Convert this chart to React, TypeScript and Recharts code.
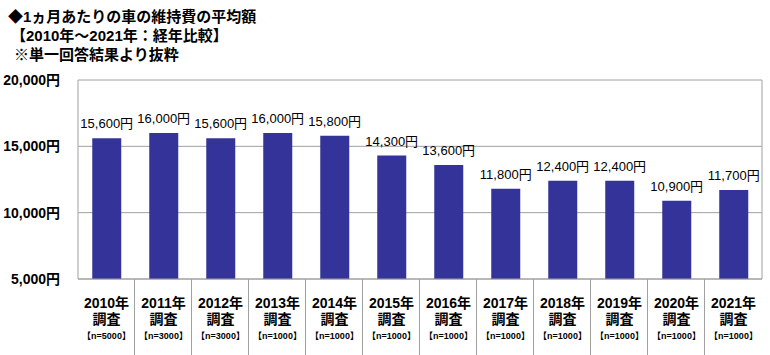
import React from 'react';
import { BarChart, Bar, XAxis, YAxis, CartesianGrid, LabelList } from 'recharts';

const years = ['2010年', '2011年', '2012年', '2013年', '2014年', '2015年', '2016年', '2017年', '2018年', '2019年', '2020年', '2021年'];
const samples = ['【n=5000】', '【n=3000】', '【n=3000】', '【n=1000】', '【n=1000】', '【n=1000】', '【n=1000】', '【n=1000】', '【n=1000】', '【n=1000】', '【n=1000】', '【n=1000】'];
const costs = [15600, 16000, 15600, 16000, 15800, 14300, 13600, 11800, 12400, 12400, 10900, 11700];
const yTicks = [5000, 10000, 15000, 20000];
const surveyLabel = '調査';
const titleLines = ['◆1ヵ月あたりの車の維持費の平均額', '【2010年～2021年：経年比較】', '※単一回答結果より抜粋'];
const titleLeft = [8, 11, 14];

const data = years.map((y, i) => ({ year: y, sample: samples[i], cost: costs[i] }));

const FONT = '"Liberation Sans", Arial, "Noto Sans CJK JP", sans-serif';
const BAR = '#333399';
const GRID = '#a0a0a0';

const fmtYen = (v: number) => v.toLocaleString('en-US') + '円';

const tickCentres: Record<number, number> = {};

const XTick = (props: any) => {
  const { x, y, payload, index } = props;
  const i = payload && typeof payload.index === 'number' ? payload.index : index;
  tickCentres[i] = x;
  let sepX: number | null = null;
  if (i > 0) {
    const prev = tickCentres[i - 1];
    if (typeof prev === 'number' && prev < x) sepX = (x + prev) / 2;
    else if (payload && payload.offset) sepX = x - payload.offset;
  }
  return (
    <g>
      {sepX !== null && (
        <rect x={Math.round(sepX) - 1} y={y} width={1} height={76} fill={GRID} />
      )}
      <text x={x} y={y + 29} textAnchor="middle" fontSize={14} fontWeight="bold" fill="#000" fontFamily={FONT}>
        {payload.value}
      </text>
      <text x={x} y={y + 45} textAnchor="middle" fontSize={14} fontWeight="bold" fill="#000" fontFamily={FONT}>
        {surveyLabel}
      </text>
      <text x={x} y={y + 60} textAnchor="middle" fontSize={9} fontWeight="bold" fill="#000" fontFamily={FONT}>
        {samples[i]}
      </text>
    </g>
  );
};

export default function App() {
  return (
    <div style={{ position: 'absolute', left: 0, top: 0, width: 770, height: 355, background: '#fff', fontFamily: FONT }}>
      {titleLines.map((t, i) => (
        <div
          key={i}
          style={{
            position: 'absolute',
            left: titleLeft[i],
            top: 8 + i * 19,
            fontSize: 15,
            fontWeight: 'bold',
            lineHeight: '18px',
            whiteSpace: 'nowrap',
            color: '#000',
          }}
        >
          {t}
        </div>
      ))}
      <BarChart
        width={770}
        height={355}
        data={data}
        margin={{ top: 80, right: 8, bottom: 0, left: 0 }}
        barCategoryGap="25%"
      >
        <CartesianGrid
          stroke={GRID}
          vertical={true}
          verticalCoordinatesGenerator={({ offset }: any) => [offset.left + offset.width]}
        />
        <XAxis
          dataKey="year"
          height={76}
          interval={0}
          tickLine={false}
          tickSize={0}
          tickMargin={0}
          axisLine={{ stroke: GRID }}
          tick={<XTick />}
        />
        <YAxis
          type="number"
          domain={[5000, 20000]}
          ticks={yTicks}
          width={78}
          tickLine={false}
          tickSize={0}
          tickMargin={18}
          axisLine={{ stroke: GRID }}
          tickFormatter={fmtYen}
          tick={{ fontSize: 14, fontWeight: 'bold', fill: '#000', fontFamily: FONT }}
        />
        <Bar dataKey="cost" fill={BAR} isAnimationActive={false}>
          <LabelList
            dataKey="cost"
            position="top"
            offset={10}
            formatter={(v: any) => fmtYen(Number(v))}
            style={{ fontSize: 13, fill: '#000', fontFamily: FONT }}
          />
        </Bar>
      </BarChart>
    </div>
  );
}
